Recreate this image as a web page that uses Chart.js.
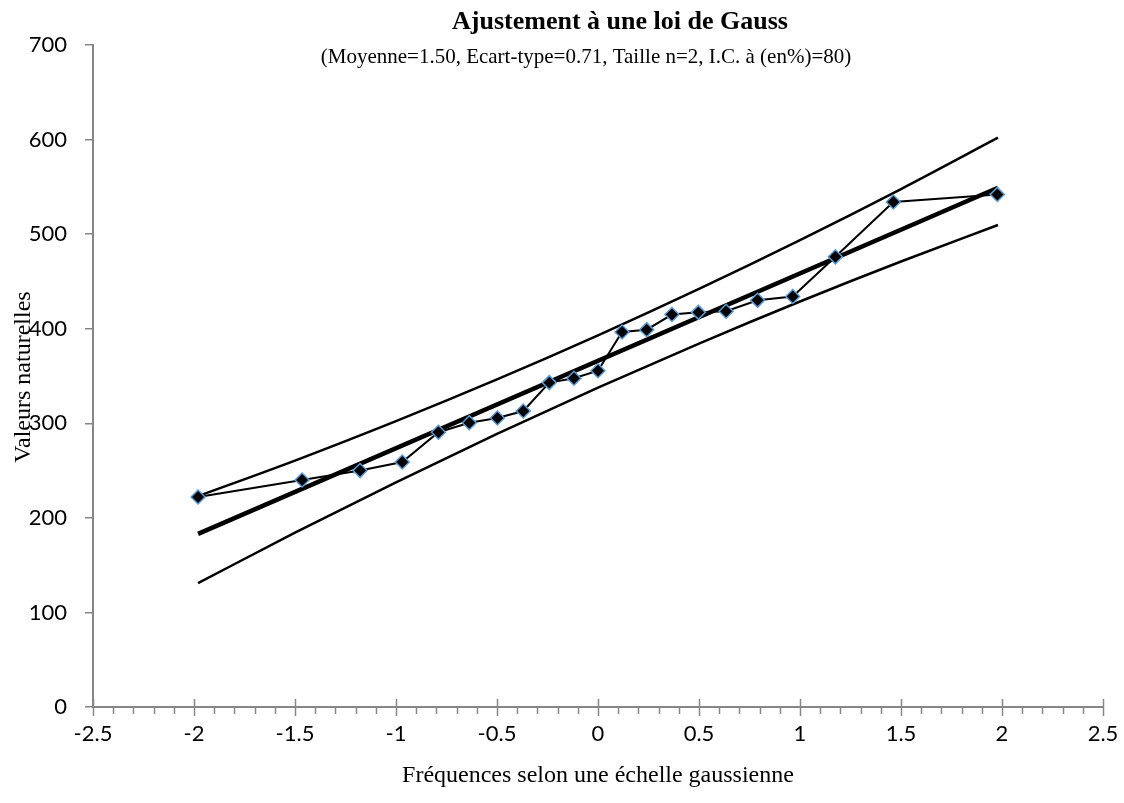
<!DOCTYPE html>
<html>
<head>
<meta charset="utf-8">
<title>Ajustement à une loi de Gauss</title>
<script src="https://cdn.jsdelivr.net/npm/chart.js@4.4.1/dist/chart.umd.min.js"></script>
<style>
  html, body { margin: 0; padding: 0; background: #fff; }
  #wrap { width: 1124px; height: 803px; }
</style>
</head>
<body>
<div id="wrap"><canvas id="gaussChart" width="1124" height="803"></canvas></div>
<script>
// --- données ---
const freqGauss = [-1.98, -1.465, -1.178, -0.969, -0.79, -0.637, -0.498, -0.37, -0.241, -0.119,
                   0, 0.119, 0.241, 0.366, 0.497, 0.634, 0.79, 0.964, 1.175, 1.462, 1.977];
const valeurs = [222, 240, 250, 259, 290.5, 300.6, 305.6, 313, 343, 347.6,
                 355.6, 396.5, 399, 415, 417.3, 418.5, 430, 434, 476, 534, 542];

// droite d'ajustement
const droiteX = [-1.98, 1.98];
const droiteY = [183, 549];

// bornes de l'intervalle de confiance
const bandeX = [-1.98, -1.5, -1, -0.5, 0, 0.5, 1, 1.5, 1.98];
const borneSup = [223, 260.6, 302.3, 346.4, 393, 442.1, 493.7, 547.7, 602];
const borneInf = [131, 184.3, 237.6, 288.7, 337.6, 384.3, 428.8, 471.1, 509.7];

// axes
const xMin = -2.5, xMax = 2.5, xStep = 0.5;
const yMin = 0, yMax = 700, yStep = 100;

const titre = 'Ajustement à une loi de Gauss';
const sousTitre = '(Moyenne=1.50, Ecart-type=0.71, Taille n=2, I.C. à (en%)=80)';
const titreX = 'Fréquences selon une échelle gaussienne';
const titreY = 'Valeurs naturelles';

const toPoints = (xs, ys) => xs.map((v, i) => ({ x: v, y: ys[i] }));

const AXIS_GREY = '#868686';
const SERIF = '"Liberation Serif", "Times New Roman", serif';

// Titres + graduations de l'axe X (majeures qui traversent, mineures dessous)
const decorPlugin = {
    id: 'decor',
    afterDraw(chart) {
        const { ctx, scales: { x, y } } = chart;
        ctx.save();

        const y0 = y.getPixelForValue(yMin);
        ctx.strokeStyle = AXIS_GREY;
        ctx.lineWidth = 1.5;
        for (let k = 0; k <= Math.round((xMax - xMin) * 10); k++) {
            const v = xMin + k / 10;
            const px = Math.round(x.getPixelForValue(v)) + 0.5;
            const major = k % 5 === 0;
            ctx.beginPath();
            ctx.moveTo(px, major ? y0 - 8 : y0);
            ctx.lineTo(px, major ? y0 + 9 : y0 + 7);
            ctx.stroke();
        }

        ctx.fillStyle = '#000';
        ctx.textAlign = 'center';
        ctx.textBaseline = 'middle';

        ctx.font = 'bold 26px ' + SERIF;
        ctx.fillText(titre, 620, 22);

        ctx.font = '21px ' + SERIF;
        ctx.fillText(sousTitre, 586, 57);

        ctx.font = '24px ' + SERIF;
        ctx.fillText(titreX, 598, 776);

        ctx.translate(24, 377);
        ctx.rotate(-Math.PI / 2);
        ctx.fillText(titreY, 0, 0);

        ctx.restore();
    }
};

new Chart(document.getElementById('gaussChart'), {
    type: 'scatter',
    data: {
        datasets: [{
            label: 'Observations',
            data: toPoints(freqGauss, valeurs),
            showLine: true,
            borderColor: '#000',
            borderWidth: 2,
            pointStyle: 'rectRot',
            pointRadius: 7,
            pointBackgroundColor: '#000',
            pointBorderColor: '#5b9bd5',
            pointBorderWidth: 1.5
        }, {
            label: 'Droite',
            data: toPoints(droiteX, droiteY),
            showLine: true,
            borderColor: '#000',
            borderWidth: 4.5,
            pointRadius: 0
        }, {
            label: 'Borne sup',
            data: toPoints(bandeX, borneSup),
            showLine: true,
            cubicInterpolationMode: 'monotone',
            borderColor: '#000',
            borderWidth: 2.5,
            pointRadius: 0
        }, {
            label: 'Borne inf',
            data: toPoints(bandeX, borneInf),
            showLine: true,
            cubicInterpolationMode: 'monotone',
            borderColor: '#000',
            borderWidth: 2.5,
            pointRadius: 0
        }]
    },
    options: {
        responsive: false,
        animation: false,
        devicePixelRatio: 1,
        layout: { padding: { top: 45, right: 21, left: 0, bottom: 0 } },
        plugins: {
            legend: { display: false },
            tooltip: { enabled: false },
            title: { display: false }
        },
        scales: {
            x: {
                type: 'linear',
                min: xMin, max: xMax,
                afterFit: (s) => { s.height = 96; },
                border: { color: AXIS_GREY, width: 2 },
                grid: { drawOnChartArea: false, drawTicks: true, tickLength: 12, color: 'rgba(0,0,0,0)' },
                ticks: {
                    stepSize: xStep,
                    padding: 2,
                    color: '#000',
                    font: { family: 'Lato', size: 22 },
                    callback: (v) => String(Math.round(v * 10) / 10)
                }
            },
            y: {
                type: 'linear',
                min: yMin, max: yMax,
                afterFit: (s) => { s.width = 93; },
                border: { color: AXIS_GREY, width: 2 },
                grid: { drawOnChartArea: false, drawTicks: true, tickLength: 8, color: AXIS_GREY, lineWidth: 1.5 },
                ticks: {
                    stepSize: yStep,
                    padding: 18,
                    color: '#000',
                    font: { family: 'Lato', size: 22 }
                }
            }
        }
    },
    plugins: [decorPlugin]
});
</script>
</body>
</html>
